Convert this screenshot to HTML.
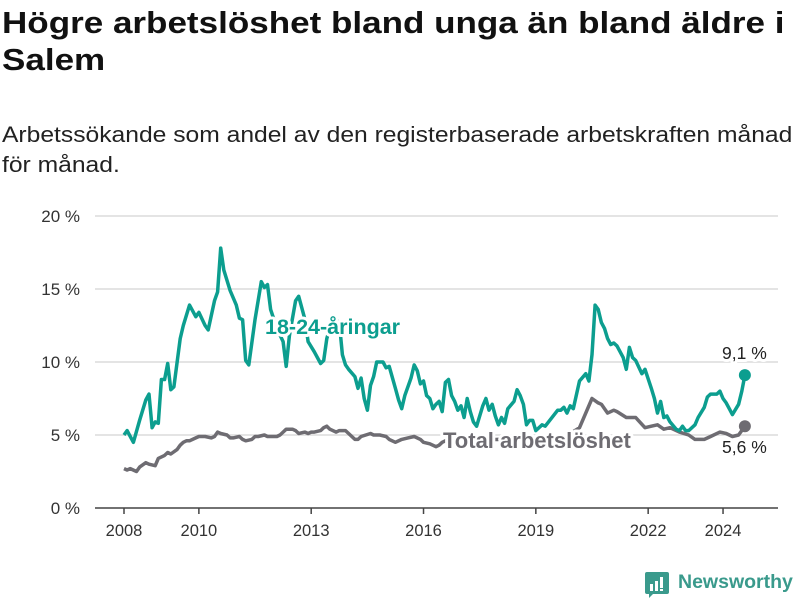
<!DOCTYPE html>
<html><head><meta charset="utf-8">
<style>
body{margin:0;background:#fff;width:800px;height:600px;overflow:hidden;font-family:"Liberation Sans",sans-serif;}
.t{position:absolute;left:2px;white-space:nowrap;color:#111;transform-origin:0 0;}
</style></head><body>
<div class="t" style="top:4px;font-size:31px;font-weight:bold;line-height:37px;transform:scaleX(1.13);">Högre arbetslöshet bland unga än bland äldre i<br>Salem</div>
<div class="t" style="top:120px;font-size:22px;line-height:30px;color:#222;transform:scaleX(1.12);">Arbetssökande som andel av den registerbaserade arbetskraften månad<br>för månad.</div>
<svg id="chart" width="800" height="600" style="position:absolute;left:0;top:0" xmlns="http://www.w3.org/2000/svg"></svg>
<div style="position:absolute;left:645px;top:570px;">
<svg width="24" height="26" style="position:absolute;left:0;top:2px"><path d="M0 2 Q0 0 2 0 H22 Q24 0 24 2 V20 Q24 22 22 22 H8 L4 26 V22 H2 Q0 22 0 20Z" fill="#3a9a8c"/><rect x="5" y="12" width="3" height="7" fill="#fff"/><rect x="10" y="9" width="3" height="10" fill="#fff"/><rect x="15" y="5" width="3" height="11" fill="#fff"/><rect x="15" y="17" width="3" height="2" fill="#fff"/></svg>
<span style="position:absolute;left:33px;top:1px;font-size:19.5px;font-weight:bold;color:#3a9a8c;white-space:nowrap">Newsworthy</span></div>
<script>
const yTicks=[0,5,10,15,20];
const xTicks=[2008,2010,2013,2016,2019,2022,2024];
const youthMonths=[0,1,3,5,7,8,9,10,11,12,13,14,15,16,18,19,21,23,24,26,27,29,30,31,32,34,36,37,38,39,40,42,44,45,46,47,49,51,52,53,55,56,58,59,61,63,64,65,67,69,70,71,72,74,75,76,77,78,79,80,81,83,84,85,87,88,89,90,92,93,94,95,96,97,98,99,100,101,102,103,104,105,106,107,108,109,110,111,112,113,115,116,117,118,119,120,121,122,123,125,126,127,128,129,130,131,132,134,135,139,140,141,142,143,144,146,148,149,150,151,152,153,154,155,156,157,158,160,161,162,163,164,166,167,169,170,171,172,173,174,175,177,178,179,180,181,183,184,186,187,188,190,191,192,193,194,195,197,198,199];
const youthValues=[5.0,5.3,4.5,6.0,7.4,7.8,5.5,5.9,5.8,8.8,8.8,9.9,8.1,8.3,11.6,12.5,13.9,13.1,13.4,12.5,12.2,14.2,14.8,17.8,16.3,14.9,13.9,13.0,12.9,10.1,9.8,12.9,15.5,15.1,15.3,13.6,12.3,11.4,9.7,11.8,14.2,14.5,12.9,11.4,10.7,9.9,10.1,11.6,13.1,12.7,10.5,9.8,9.5,9.0,8.2,8.9,7.5,6.7,8.4,9.0,10.0,10.0,9.6,9.7,8.2,7.4,6.8,7.7,8.9,9.8,9.4,8.5,8.7,7.7,7.5,6.8,7.1,7.3,6.6,8.6,8.8,7.7,7.3,6.7,7.0,6.2,7.5,6.6,5.9,5.6,7.0,7.5,6.7,7.1,6.3,5.7,6.2,5.8,6.8,7.3,8.1,7.7,7.1,5.7,6.0,6.0,5.3,5.7,5.6,6.7,6.7,6.9,6.5,7.0,6.8,8.7,9.2,8.7,10.5,13.9,13.6,12.7,12.3,11.6,11.2,11.3,11.1,10.3,9.5,11.0,10.3,10.1,9.2,9.5,8.2,7.5,6.5,7.3,6.2,6.3,5.9,5.4,5.3,5.6,5.3,5.3,5.7,6.2,6.9,7.6,7.8,7.8,8.0,7.5,7.2,6.8,6.4,7.1,8.0,9.1];
const totalMonths=[0,1,2,4,5,7,8,10,11,13,14,15,17,18,19,20,21,23,24,26,28,29,30,31,33,34,35,37,38,39,41,42,43,45,46,48,49,50,51,52,54,55,56,58,59,60,61,63,64,65,66,68,69,71,72,74,75,76,79,80,82,84,85,87,89,91,93,95,96,98,100,101,102,104,110,120,130,140,146,150,152,153,155,157,158,161,164,167,169,171,173,175,178,181,183,186,188,191,193,195,197,199];
const totalValues=[2.7,2.6,2.7,2.5,2.8,3.1,3.0,2.9,3.4,3.6,3.8,3.7,4.0,4.3,4.5,4.6,4.6,4.8,4.9,4.9,4.8,4.9,5.2,5.1,5.0,4.8,4.8,4.9,4.7,4.6,4.7,4.9,4.9,5.0,4.9,4.9,4.9,5.0,5.2,5.4,5.4,5.3,5.1,5.2,5.1,5.2,5.2,5.3,5.5,5.6,5.4,5.2,5.3,5.3,5.1,4.7,4.7,4.9,5.1,5.0,5.0,4.9,4.7,4.5,4.7,4.8,4.9,4.7,4.5,4.4,4.2,4.3,4.5,4.7,4.6,4.7,4.6,4.7,5.5,7.5,7.2,7.1,6.5,6.7,6.6,6.2,6.2,5.5,5.6,5.7,5.4,5.5,5.2,5.0,4.7,4.7,4.9,5.2,5.1,4.9,5.0,5.6];

const NS='http://www.w3.org/2000/svg';
const svg=document.getElementById('chart');
const x0=124, pxYear=37.44, y0=508, pxUnit=14.6;
const xYear=y=>x0+(y-2008)*pxYear;
const xMonth=m=>x0+m*pxYear/12;
const yVal=v=>y0-v*pxUnit;
function mk(tag,attrs){const e=document.createElementNS(NS,tag);for(const k in attrs)e.setAttribute(k,attrs[k]);svg.appendChild(e);return e;}
yTicks.forEach(t=>{
  if(t>0){const g=mk('line',{x1:95,x2:778,y1:yVal(t),y2:yVal(t),stroke:'#dcdcdc','stroke-width':1.5});
  
  }
  const l=mk('text',{x:80,y:yVal(t)+6,'text-anchor':'end','font-size':17,fill:'#333','font-family':'Liberation Sans, sans-serif'});
  l.textContent=t+' %';
  
  
});
const ax=mk('line',{x1:95,x2:778,y1:y0,y2:y0,stroke:'#444','stroke-width':1.5});


xTicks.forEach(t=>{
  const tk=mk('line',{x1:xYear(t),x2:xYear(t),y1:y0,y2:y0+6,stroke:'#444','stroke-width':1.5});
  
  
  const l=mk('text',{x:xYear(t),y:536,'text-anchor':'middle','font-size':16.5,fill:'#333','font-family':'Liberation Sans, sans-serif'});
  l.textContent=t;
  
  
});
function line(ms,vs,color,name){
  const d=ms.map((m,i)=>(i?'L':'M')+xMonth(m).toFixed(1)+' '+yVal(vs[i]).toFixed(1)).join(' ');
  const p=mk('path',{d:d,fill:'none',stroke:color,'stroke-width':3.5,'stroke-linejoin':'round'});
  
  
  const last=ms.length-1;
  const c=mk('circle',{cx:xMonth(ms[last]),cy:yVal(vs[last]),r:6,fill:color});
  
  
}
line(totalMonths,totalValues,'#6e6c72','total-line');
line(youthMonths,youthValues,'#0c9e8f','youth-line');
function label(txt,x,y,color,bold,name,size){
  const t=mk('text',{x:x,y:y,fill:color,'font-size':size,'font-weight':bold?'bold':'normal','font-family':'Liberation Sans, sans-serif',stroke:'#fff','stroke-width':6,'paint-order':'stroke','stroke-linejoin':'round'});
  t.textContent=txt;
  
  
}
label('18-24-åringar',265,334,'#0c9e8f',true,'youth-series-label',21.5);
label('Total arbetslöshet',443,448,'#6e6c72',true,'total-series-label',22);
label('9,1 %',722,359,'#222',false,'youth-last-value',17.5);
label('5,6 %',722,453,'#222',false,'total-last-value',17.5);
</script>
</body></html>
